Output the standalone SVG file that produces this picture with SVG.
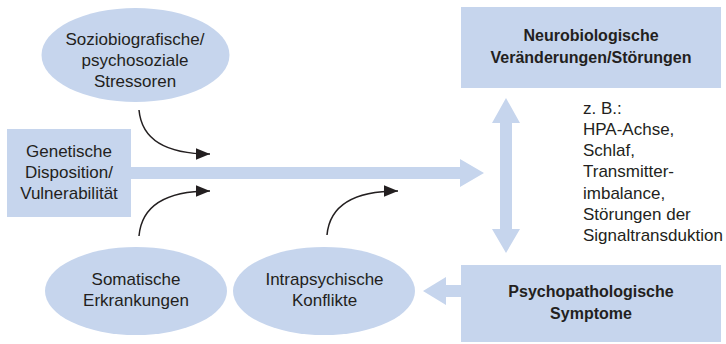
<svg xmlns="http://www.w3.org/2000/svg" width="726" height="344" viewBox="0 0 726 344">
<style>
.fill{fill:#c6d5ed;}
text{font-family:"Liberation Sans",Arial,sans-serif;font-size:17px;fill:#231f20;}
.c{text-anchor:middle;}
.b{font-weight:bold;font-size:16px;}
.curve{fill:none;stroke:#231f20;stroke-width:1.5;}
</style>
<defs>
<marker id="ah" markerUnits="userSpaceOnUse" markerWidth="14" markerHeight="12" refX="12" refY="5" orient="auto" viewBox="0 0 12 10">
<path d="M0,0 L12,5 L0,10 Z" fill="#231f20"/>
</marker>
</defs>
<g id="connectors">
<polygon class="fill" points="131,167 460,167 460,159 484,173 460,187 460,179 131,179"/>
<polygon class="fill" points="506,98 520,123 512,123 512,229 520,229 506,253 492,229 500,229 500,123 492,123"/>
<polygon class="fill" points="461,285 446,285 446,277 423,291 446,305 446,297 461,297"/>
<path class="curve" d="M139,110 Q143,154 210,154" marker-end="url(#ah)"/>
<path class="curve" d="M139,236 Q143,191 210,191" marker-end="url(#ah)"/>
<path class="curve" d="M327,235 Q331,191 398,191" marker-end="url(#ah)"/>
</g>
<g id="stressoren">
<ellipse class="fill" cx="135.5" cy="55" rx="94" ry="47"/>
<text class="c" x="135" y="45">Soziobiografische/</text>
<text class="c" x="135" y="66">psychosoziale</text>
<text class="c" x="135" y="87">Stressoren</text>
</g>
<g id="genetische">
<rect class="fill" x="7" y="129" width="124" height="88"/>
<text class="c" x="69" y="157">Genetische</text>
<text class="c" x="69" y="178">Disposition/</text>
<text class="c" x="69" y="199">Vulnerabilität</text>
</g>
<g id="somatische">
<ellipse class="fill" cx="136" cy="291" rx="91" ry="44"/>
<text class="c" x="136" y="285">Somatische</text>
<text class="c" x="136" y="306">Erkrankungen</text>
</g>
<g id="intrapsychische">
<ellipse class="fill" cx="324" cy="291" rx="91" ry="44"/>
<text class="c" x="324.5" y="285">Intrapsychische</text>
<text class="c" x="324.5" y="306">Konflikte</text>
</g>
<g id="neurobiologische">
<rect class="fill" x="461" y="7" width="260" height="81"/>
<text class="c b" x="591" y="41">Neurobiologische</text>
<text class="c b" x="591" y="63">Veränderungen/Störungen</text>
</g>
<g id="psychopathologische">
<rect class="fill" x="461" y="265" width="260" height="77"/>
<text class="c b" x="591" y="297">Psychopathologische</text>
<text class="c b" x="591" y="319">Symptome</text>
</g>
<g id="beispiele">
<text x="583" y="113.5">z. B.:</text>
<text x="583" y="134.75">HPA-Achse,</text>
<text x="583" y="156">Schlaf,</text>
<text x="583" y="177.25">Transmitter-</text>
<text x="583" y="198.5">imbalance,</text>
<text x="583" y="219.75">Störungen der</text>
<text x="583" y="241">Signaltransduktion</text>
</g>
</svg>
